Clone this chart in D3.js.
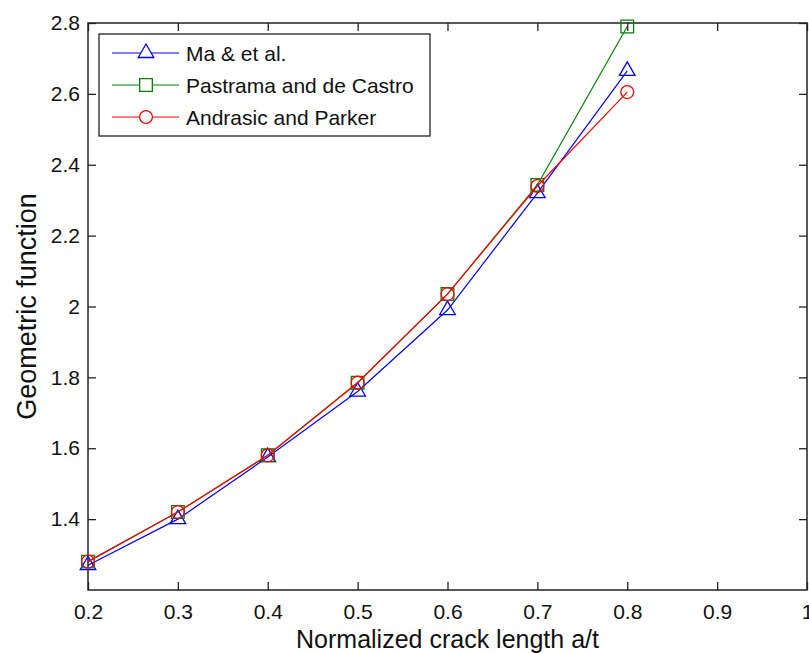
<!DOCTYPE html>
<html>
<head>
<meta charset="utf-8">
<script src="https://cdn.jsdelivr.net/npm/d3@7"></script>
<style>
  body { margin: 0; background: #fff; }
  text { font-family: "Liberation Sans", Arial, sans-serif; fill: #111; }
</style>
</head>
<body>
<div id="chart"></div>
<script>

// data
var crackLength = [0.2, 0.3, 0.4, 0.5, 0.6, 0.7, 0.8];
var maEtAl      = [1.27, 1.40, 1.575, 1.76, 1.99, 2.32, 2.665];
var pastrama    = [1.28, 1.42, 1.58, 1.785, 2.035, 2.343, 2.79];
var andrasic    = [1.28, 1.42, 1.58, 1.785, 2.035, 2.34, 2.605];
var xTicks = [0.2, 0.3, 0.4, 0.5, 0.6, 0.7, 0.8, 0.9, 1];
var yTicks = [1.4, 1.6, 1.8, 2, 2.2, 2.4, 2.6, 2.8];

var series = [
  {name: "Ma & et al.", values: maEtAl, color: "#0000ff", symbol: d3.symbolTriangle, size: 105},
  {name: "Pastrama and de Castro", values: pastrama, color: "#008000", symbol: d3.symbolSquare, size: 160},
  {name: "Andrasic and Parker", values: andrasic, color: "#ff0000", symbol: d3.symbolCircle, size: 130}
];

var width = 809, height = 653;
var margin = {top: 23, right: 2, bottom: 63, left: 88};

var svg = d3.select("#chart")
  .append("svg")
    .attr("width", width)
    .attr("height", height);

var x = d3.scaleLinear()
  .domain([0.2, 1])
  .range([margin.left, width - margin.right]);

var y = d3.scaleLinear()
  .domain([1.2, 2.8])
  .range([height - margin.bottom, margin.top]);

// axes, matlab style: ticks inward on all four sides
function styleAxis(g) {
  g.selectAll(".domain").remove();
  g.selectAll(".tick line").attr("stroke", "#222").attr("stroke-width", 1.3);
  g.selectAll(".tick text")
    .style("font-family", "'Liberation Sans', Arial, sans-serif")
    .style("font-size", "21px")
    .attr("fill", "#111");
}

svg.append("g")
  .attr("transform", "translate(0," + y.range()[0] + ")")
  .call(d3.axisBottom(x).tickValues(xTicks).tickFormat(d3.format("")).tickSizeInner(-8).tickSizeOuter(0).tickPadding(14))
  .call(styleAxis);

svg.append("g")
  .attr("transform", "translate(0," + y.range()[1] + ")")
  .call(d3.axisTop(x).tickValues(xTicks).tickFormat("").tickSizeInner(-8).tickSizeOuter(0))
  .call(styleAxis);

svg.append("g")
  .attr("transform", "translate(" + x.range()[0] + ",0)")
  .call(d3.axisLeft(y).tickValues(yTicks).tickFormat(d3.format("")).tickSizeInner(-8).tickSizeOuter(0).tickPadding(8))
  .call(styleAxis);

svg.append("g")
  .attr("transform", "translate(" + x.range()[1] + ",0)")
  .call(d3.axisRight(y).tickValues(yTicks).tickFormat("").tickSizeInner(-8).tickSizeOuter(0))
  .call(styleAxis);

// frame
svg.append("rect")
  .attr("x", x.range()[0])
  .attr("y", y.range()[1])
  .attr("width", x.range()[1] - x.range()[0])
  .attr("height", y.range()[0] - y.range()[1])
  .attr("fill", "none")
  .attr("stroke", "#222")
  .attr("stroke-width", 1.5);

// lines + markers
var line = d3.line()
  .x(function(d, i) { return x(crackLength[i]); })
  .y(function(d) { return y(d); });

series.forEach(function(s) {
  svg.append("path")
    .datum(s.values)
    .attr("fill", "none")
    .attr("stroke", s.color)
    .attr("stroke-width", 1.2)
    .attr("d", line);

  svg.selectAll(null)
    .data(s.values)
    .enter()
    .append("path")
      .attr("transform", function(d, i) { return "translate(" + x(crackLength[i]) + "," + y(d) + ")"; })
      .attr("d", d3.symbol().type(s.symbol).size(s.size))
      .attr("fill", "none")
      .attr("stroke", s.color)
      .attr("stroke-width", 1.3);
});

// axis titles
svg.append("text")
  .attr("x", (x.range()[0] + x.range()[1]) / 2)
  .attr("y", 648)
  .attr("text-anchor", "middle")
  .style("font-size", "25px")
  .text("Normalized crack length a/t");

svg.append("text")
  .attr("transform", "translate(36," + (y.range()[0] + y.range()[1]) / 2 + ") rotate(-90)")
  .attr("text-anchor", "middle")
  .style("font-size", "27px")
  .text("Geometric function");

// legend
var legend = svg.append("g").attr("transform", "translate(99,34)");

legend.append("rect")
  .attr("width", 331)
  .attr("height", 102)
  .attr("fill", "#fff")
  .attr("stroke", "#222")
  .attr("stroke-width", 1.3);

var rows = legend.selectAll(".row")
  .data(series)
  .enter()
  .append("g")
    .attr("transform", function(d, i) { return "translate(0," + (19 + i * 32) + ")"; });

rows.append("line")
  .attr("x1", 13).attr("x2", 80)
  .attr("stroke", function(d) { return d.color; })
  .attr("stroke-width", 1.2);

rows.append("path")
  .attr("transform", "translate(47,0)")
  .attr("d", function(d) { return d3.symbol().type(d.symbol).size(d.size)(); })
  .attr("fill", "#fff")
  .attr("stroke", function(d) { return d.color; })
  .attr("stroke-width", 1.3);

rows.append("text")
  .attr("x", 87)
  .attr("y", 8)
  .style("font-size", "21px")
  .text(function(d) { return d.name; });

</script>
</body>
</html>
